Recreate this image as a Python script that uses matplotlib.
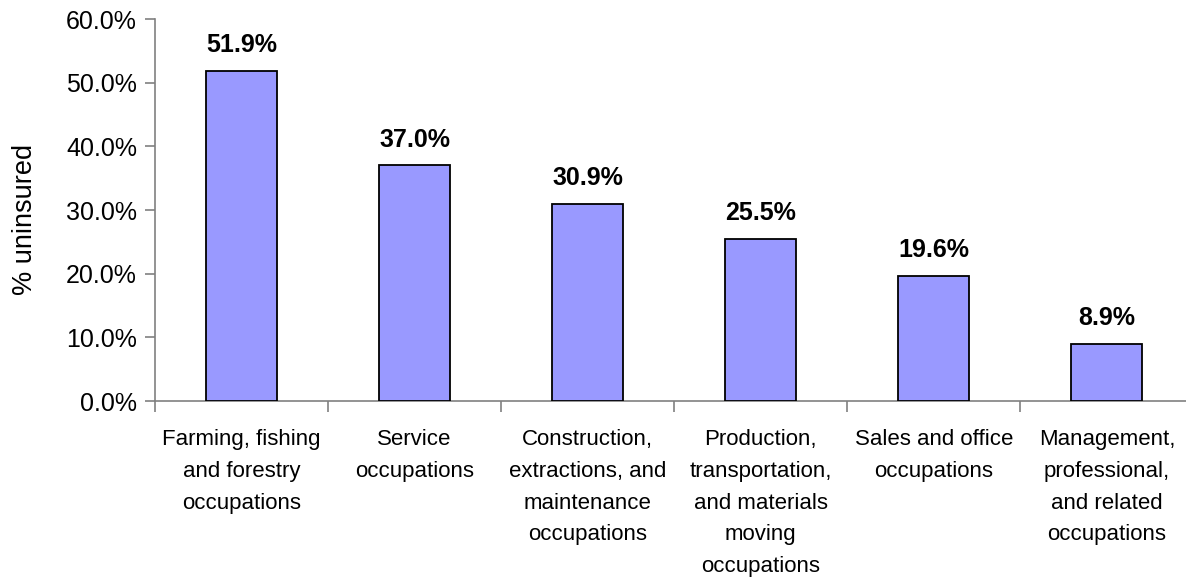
import numpy as np
import matplotlib.pyplot as plt
from matplotlib.ticker import PercentFormatter

categories = ['Farming, fishing\nand forestry\noccupations',
              'Service\noccupations',
              'Construction,\nextractions, and\nmaintenance\noccupations',
              'Production,\ntransportation,\nand materials\nmoving\noccupations',
              'Sales and office\noccupations',
              'Management,\nprofessional,\nand related\noccupations']
uninsured = [51.9, 37.0, 30.9, 25.5, 19.6, 8.9]
yticks = [0, 10, 20, 30, 40, 50, 60]

plt.rcParams['font.family'] = ['Liberation Sans', 'DejaVu Sans']

fig = plt.figure(figsize=(11.86, 5.77), dpi=100)
ax = fig.add_axes([0.1307, 0.305, 0.8755, 0.662])

x = np.arange(len(categories))
bars = ax.bar(x, uninsured, width=0.41, color='#9999FF', edgecolor='black', linewidth=1.3, zorder=3)

for xi, v in zip(x, uninsured):
    ax.annotate(f'{v:.1f}%', (xi, v), xytext=(0, 10), textcoords='offset points',
                ha='center', va='bottom', fontsize=18, fontweight='bold')

ax.set_xlim(-0.5, len(categories) - 0.5)
ax.set_ylim(0, 60)
ax.set_yticks(yticks)
ax.yaxis.set_major_formatter(PercentFormatter(decimals=1))

ax.set_xticks(x)
ax.set_xticklabels(categories, fontsize=16, linespacing=1.68)
ax.set_xticks(np.arange(len(categories) + 1) - 0.5, minor=True)
ax.tick_params(axis='x', which='major', length=0, pad=20)
ax.tick_params(axis='x', which='minor', length=8, color='#808080', width=1.2)
ax.tick_params(axis='y', length=7, color='#808080', width=1.2, labelsize=18, pad=6)

for side in ['top', 'right']:
    ax.spines[side].set_visible(False)
for side in ['left', 'bottom']:
    ax.spines[side].set_color('#808080')
    ax.spines[side].set_linewidth(1.2)

ax.set_ylabel('% uninsured', fontsize=19.5)
ax.yaxis.set_label_coords(-0.113, 0.475)

fig.savefig('out.png', dpi=100)
